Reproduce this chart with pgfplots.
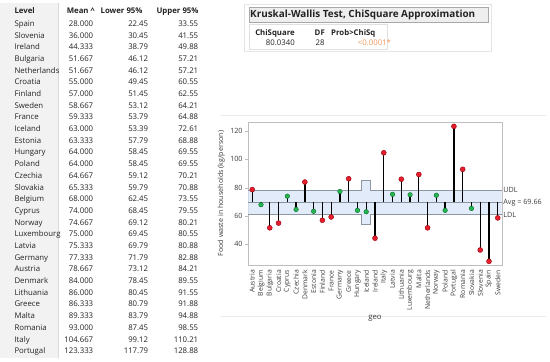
\documentclass[border=0pt]{standalone}
\usepackage{pgfplots}
\usepackage{pgfplotstable}
\pgfplotsset{compat=1.18}
\usepackage{fontspec}
\setmainfont{Open Sans}
\definecolor{txt}{RGB}{35,35,35}
\definecolor{ticktxt}{RGB}{60,60,60}
\definecolor{axisgray}{RGB}{190,190,190}
\definecolor{bandblue}{RGB}{226,235,249}
\definecolor{bandline}{RGB}{140,150,162}
\definecolor{redpt}{RGB}{230,30,45}
\definecolor{reddark}{RGB}{150,0,10}
\definecolor{greenpt}{RGB}{40,180,80}
\definecolor{greendark}{RGB}{0,110,40}
\definecolor{orangetxt}{RGB}{242,150,90}
\definecolor{levelfill}{RGB}{242,242,242}
\definecolor{titlefill}{RGB}{238,238,238}

\pgfplotstableread{
x mean c
0 78.667 r
1 68.000 g
2 51.667 r
3 55.000 r
4 74.000 g
5 64.667 g
6 84.000 r
7 63.333 g
8 57.000 r
9 59.333 r
10 77.333 g
11 86.333 r
12 64.000 g
13 63.000 g
14 44.333 r
15 104.667 r
16 75.333 g
17 86.000 r
18 75.000 g
19 89.333 r
20 51.667 r
21 74.667 g
22 64.000 g
23 123.333 r
24 93.000 r
25 65.333 g
26 36.000 r
27 28.000 r
28 58.667 r
}\anomdata

\begin{document}
\begin{tikzpicture}
\useasboundingbox (0pt,0pt) rectangle (550pt,-362pt);
\fill[white] (0pt,0pt) rectangle (550pt,-362pt);

\begin{scope}[x=1pt,y=-1pt]
% ---- left table ----
\fill[levelfill] (0,3) rectangle (58,358);
\draw[white!85!black,line width=0.4pt] (58,3) -- (58,358);
\node[anchor=mid west,font=\bfseries\fontsize{7.8}{9}\selectfont,text=txt] at (11,11.3) {Level};
\node[anchor=mid east,font=\bfseries\fontsize{7.8}{9}\selectfont,text=txt] at (98.3,11.3) {Mean \textasciicircum};
\node[anchor=mid east,font=\bfseries\fontsize{7.8}{9}\selectfont,text=txt] at (146,11.3) {Lower 95\%};
\node[anchor=mid east,font=\bfseries\fontsize{7.8}{9}\selectfont,text=txt] at (202,11.3) {Upper 95\%};
\foreach \n/\m/\l/\u [count=\i from 0] in {
Spain/28.000/22.45/33.55,
Slovenia/36.000/30.45/41.55,
Ireland/44.333/38.79/49.88,
Bulgaria/51.667/46.12/57.21,
Netherlands/51.667/46.12/57.21,
Croatia/55.000/49.45/60.55,
Finland/57.000/51.45/62.55,
Sweden/58.667/53.12/64.21,
France/59.333/53.79/64.88,
Iceland/63.000/53.39/72.61,
Estonia/63.333/57.79/68.88,
Hungary/64.000/58.45/69.55,
Poland/64.000/58.45/69.55,
Czechia/64.667/59.12/70.21,
Slovakia/65.333/59.79/70.88,
Belgium/68.000/62.45/73.55,
Cyprus/74.000/68.45/79.55,
Norway/74.667/69.12/80.21,
Luxembourg/75.000/69.45/80.55,
Latvia/75.333/69.79/80.88,
Germany/77.333/71.79/82.88,
Austria/78.667/73.12/84.21,
Denmark/84.000/78.45/89.55,
Lithuania/86.000/80.45/91.55,
Greece/86.333/80.79/91.88,
Malta/89.333/83.79/94.88,
Romania/93.000/87.45/98.55,
Italy/104.667/99.12/110.21,
Portugal/123.333/117.79/128.88}{
  \node[anchor=mid west,font=\fontsize{7.8}{9}\selectfont,text=txt] at (11,{23.7+\i*11.69}) {\n};
  \node[anchor=mid east,font=\fontsize{7.8}{9}\selectfont,text=txt] at (96.7,{23.7+\i*11.69}) {\m};
  \node[anchor=mid east,font=\fontsize{7.8}{9}\selectfont,text=txt] at (151.7,{23.7+\i*11.69}) {\l};
  \node[anchor=mid east,font=\fontsize{7.8}{9}\selectfont,text=txt] at (201.7,{23.7+\i*11.69}) {\u};
}

% ---- Kruskal-Wallis box ----
\draw[white!90!black,line width=0.5pt] (244,4) rectangle (491,51);
\draw[white!88!black,line width=0.4pt] (249,24.5) rectangle (387,49);
\filldraw[fill=titlefill,draw=white!66!black,line width=0.5pt] (249,7.3) rectangle (488,22.7);
\node[anchor=mid west,font=\bfseries\fontsize{9.9}{11}\selectfont,text=txt,inner sep=0pt] at (250,15) {Kruskal-Wallis Test, ChiSquare Approximation};
\node[anchor=mid east,font=\bfseries\fontsize{7.8}{9}\selectfont,text=txt,inner sep=0pt] at (295,32.7) {ChiSquare};
\node[anchor=mid east,font=\bfseries\fontsize{7.8}{9}\selectfont,text=txt,inner sep=0pt] at (325,32.7) {DF};
\node[anchor=mid west,font=\bfseries\fontsize{7.8}{9}\selectfont,text=txt,inner sep=0pt] at (331,32.7) {Prob>ChiSq};
\node[anchor=mid east,font=\fontsize{7.8}{9}\selectfont,text=txt,inner sep=0pt] at (295,42.7) {80.0340};
\node[anchor=mid east,font=\fontsize{7.8}{9}\selectfont,text=txt,inner sep=0pt] at (324.7,42.7) {28};
\node[anchor=mid west,font=\fontsize{7.8}{9}\selectfont,text=orangetxt,inner sep=0pt] at (357.7,42.7) {<0.0001*};

% ---- graph frame ----
\draw[white!92!black,line width=0.5pt] (220,115) -- (546,115);
\draw[white!92!black,line width=0.5pt] (220,316) -- (546,316);
\end{scope}

\begin{axis}[
  at={(248.3pt,-265pt)}, anchor=south west,
  scale only axis, width=253.4pt, height=143pt,
  xmin=-0.45, xmax=28.45, ymin=25.4, ymax=126.4,
  axis line style={draw=axisgray},
  xtick={0,...,28},
  xticklabels={Austria,Belgium,Bulgaria,Croatia,Cyprus,Czechia,Denmark,Estonia,Finland,France,Germany,Greece,Hungary,Iceland,Ireland,Italy,Latvia,Lithuania,Luxembourg,Malta,Netherlands,Norway,Poland,Portugal,Romania,Slovakia,Slovenia,Spain,Sweden},
  x tick label style={rotate=90, anchor=east, font=\fontsize{6.8}{7}\selectfont, text=ticktxt, inner sep=1.5pt},
  ytick={40,60,80,100,120},
  y tick label style={font=\fontsize{7.2}{8}\selectfont, text=ticktxt, inner sep=2pt},
  tick align=outside, tick pos=left,
  major tick length=3.5pt,
  x tick style={draw=none},
  y tick style={draw=axisgray},
  ylabel={Food waste in households (kg/person)},
  ylabel style={font=\fontsize{7.1}{8}\selectfont, text=ticktxt},
  xlabel={geo},
  xlabel style={font=\fontsize{7.8}{9}\selectfont, text=ticktxt},
  /pgf/number format/assume math mode=true,
  clip=false,
]
% band
\addplot[fill=bandblue, draw=none] coordinates {
  (-0.45,61.1) (12.5,61.1) (12.5,54.0) (13.5,54.0) (13.5,61.1) (28.45,61.1)
  (28.45,78.2) (13.5,78.2) (13.5,85.3) (12.5,85.3) (12.5,78.2) (-0.45,78.2)} -- cycle;
\addplot[bandline, line width=0.7pt] coordinates {
  (-0.45,78.2) (12.5,78.2) (12.5,85.3) (13.5,85.3) (13.5,78.2) (28.45,78.2)};
\addplot[bandline, line width=0.7pt] coordinates {
  (-0.45,61.1) (12.5,61.1) (12.5,54.0) (13.5,54.0) (13.5,61.1) (28.45,61.1)};
\addplot[bandline, line width=0.7pt] coordinates {(-0.45,69.66) (28.45,69.66)};
% needles
\addplot[black, line width=1.3pt, no markers, quiver={u=0, v=69.66-\thisrow{mean}}]
  table[x=x, y=mean] {\anomdata};
% points
\addplot[scatter, only marks, scatter src=explicit symbolic,
  scatter/classes={
    r={mark=*, mark size=2.5pt, fill=redpt, draw=reddark, line width=0.4pt},
    g={mark=*, mark size=2.3pt, fill=greenpt, draw=greendark, line width=0.4pt}}]
  table[x=x, y=mean, meta=c] {\anomdata};
\node[anchor=west, font=\fontsize{7.2}{8}\selectfont, text=ticktxt, inner sep=1.5pt] at (axis cs:28.45,78.2) {UDL};
\node[anchor=west, font=\fontsize{7.2}{8}\selectfont, text=ticktxt, inner sep=1.5pt] at (axis cs:28.45,69.3) {Avg = 69.66};
\node[anchor=west, font=\fontsize{7.2}{8}\selectfont, text=ticktxt, inner sep=1.5pt] at (axis cs:28.45,61.1) {LDL};
\end{axis}
\end{tikzpicture}
\end{document}
